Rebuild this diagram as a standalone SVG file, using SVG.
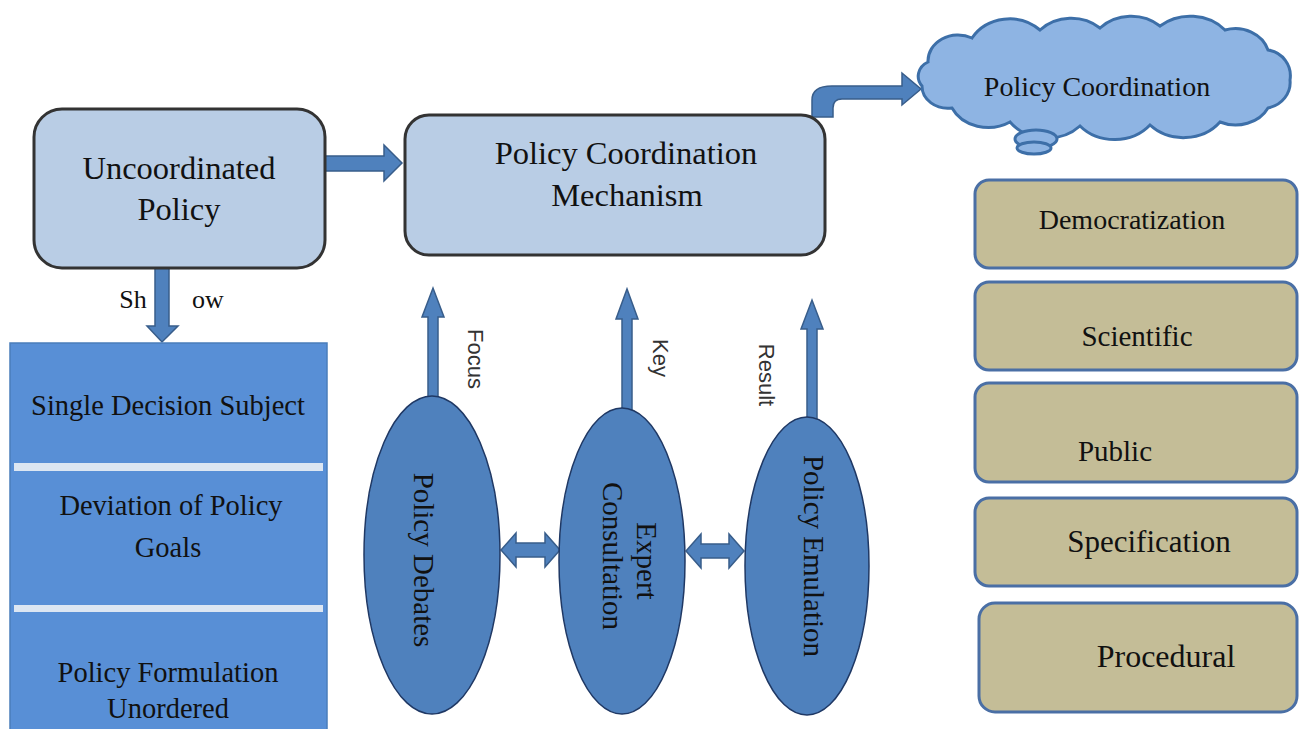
<svg xmlns="http://www.w3.org/2000/svg" width="1299" height="729" viewBox="0 0 1299 729">
<style>
.serif{font-family:"Liberation Serif","Times New Roman",serif;fill:#111;}
.sans{font-family:"Liberation Sans",Arial,sans-serif;fill:#333;}
.arrow{fill:#4f81bd;stroke:#385d8a;stroke-width:1.5;}
.lbox{fill:#b9cde5;stroke:#333;stroke-width:3;}
.tbox{fill:#c4bd97;stroke:#4a6fa5;stroke-width:3;}
.ell{fill:#4f81bd;stroke:#1f3864;stroke-width:1.5;}
</style>
<rect width="1299" height="729" fill="#fff"/>
<g id="connectors">
  <path class="arrow" d="M322 156 L384 156 L384 145 L402 163 L384 181 L384 171 L322 171 Z"/>
  <path class="arrow" d="M155 268 L155 326 L147 326 L162 342 L178 326 L169 326 L169 268 Z"/>
  <path class="arrow" d="M812 117 L812 100 Q812 86 832 86 L902 86 L902 73 L921 89 L902 105 L902 99 L842 99 Q833 99 833 108 L833 117 Z"/>
  <path class="arrow" d="M428 400 L428 317 L422 317 L433 288 L444 317 L438 317 L438 400 Z"/>
  <path class="arrow" d="M622 412 L622 319 L616 319 L627 289 L638 319 L632 319 L632 412 Z"/>
  <path class="arrow" d="M807 422 L807 329 L801 329 L812 300 L823 329 L817 329 L817 422 Z"/>
  <path class="arrow" d="M501 550 L516 533 L516 543 L545 543 L545 533 L560 550 L545 567 L545 557 L516 557 L516 567 Z"/>
  <path class="arrow" d="M686 551 L701 534 L701 544 L729 544 L729 534 L744 551 L729 568 L729 558 L701 558 L701 568 Z"/>
  <text class="serif" x="133" y="308" font-size="26" text-anchor="middle">Sh</text>
  <text class="serif" x="208" y="308" font-size="26" text-anchor="middle">ow</text>
  <text class="sans" font-size="22" text-anchor="middle" transform="translate(468 359) rotate(90)">Focus</text>
  <text class="sans" font-size="22" text-anchor="middle" transform="translate(653 358) rotate(90)">Key</text>
  <text class="sans" font-size="22" text-anchor="middle" transform="translate(759 375) rotate(90)">Result</text>
</g>
<g id="uncoordinated">
  <rect class="lbox" x="34" y="109" width="291" height="159" rx="28"/>
  <text class="serif" x="179" y="179" font-size="32.5" text-anchor="middle">Uncoordinated</text>
  <text class="serif" x="179" y="220" font-size="32.5" text-anchor="middle">Policy</text>
</g>
<g id="mechanism">
  <rect class="lbox" x="405" y="115" width="420" height="140" rx="24"/>
  <text class="serif" x="626" y="164" font-size="32.5" text-anchor="middle">Policy Coordination</text>
  <text class="serif" x="627" y="206" font-size="32.5" text-anchor="middle">Mechanism</text>
</g>
<g id="cloud">
  <path d="M928 62 A30 26 0 0 1 972 38 A44 40 0 0 1 1040 30 A44 40 0 0 1 1100 28 A44 40 0 0 1 1160 26 A46 40 0 0 1 1225 30 A34 30 0 0 1 1268 50 A26 26 0 0 1 1290 80 A28 26 0 0 1 1268 108 A36 30 0 0 1 1220 122 A46 40 0 0 1 1150 125 A46 40 0 0 1 1080 126 A46 40 0 0 1 1010 122 A40 34 0 0 1 952 108 A26 22 0 0 1 922 86 A18 16 0 0 1 928 62 Z" fill="#8eb4e3" stroke="#3d6fa8" stroke-width="3"/>
  <ellipse cx="1036" cy="139" rx="21" ry="9" fill="#8eb4e3" stroke="#3d6fa8" stroke-width="3"/>
  <ellipse cx="1034" cy="148" rx="17" ry="6" fill="#8eb4e3" stroke="#3d6fa8" stroke-width="3"/>
  <text class="serif" x="1097" y="96" font-size="28" text-anchor="middle">Policy Coordination</text>
</g>
<g id="symptoms">
  <rect x="10" y="343" width="317" height="390" fill="#588fd6" stroke="#4a7ebb" stroke-width="1.5"/>
  <rect x="14" y="463" width="309" height="8" fill="#dce6f2"/>
  <rect x="14" y="605" width="309" height="7" fill="#dce6f2"/>
  <text class="serif" x="168" y="415" font-size="28.5" text-anchor="middle">Single Decision Subject</text>
  <text class="serif" x="171" y="515" font-size="28.5" text-anchor="middle">Deviation of Policy</text>
  <text class="serif" x="168" y="557" font-size="28.5" text-anchor="middle">Goals</text>
  <text class="serif" x="168" y="682" font-size="28.5" text-anchor="middle">Policy Formulation</text>
  <text class="serif" x="168" y="718" font-size="28.5" text-anchor="middle">Unordered</text>
</g>
<g id="debates">
  <ellipse class="ell" cx="432" cy="555" rx="68" ry="159"/>
  <text class="serif" font-size="29" text-anchor="middle" transform="translate(414 560) rotate(90)">Policy Debates</text>
</g>
<g id="expert">
  <ellipse class="ell" cx="622" cy="561" rx="63" ry="153"/>
  <text class="serif" font-size="29" text-anchor="middle" transform="translate(637 561) rotate(90)">Expert</text>
  <text class="serif" font-size="29" text-anchor="middle" transform="translate(603 556) rotate(90)">Consultation</text>
</g>
<g id="emulation">
  <ellipse class="ell" cx="807" cy="566" rx="62" ry="149"/>
  <text class="serif" font-size="29" text-anchor="middle" transform="translate(804 556) rotate(90)">Policy Emulation</text>
</g>
<g id="democratization">
  <rect class="tbox" x="975" y="180" width="322" height="88" rx="14"/>
  <text class="serif" x="1132" y="229" font-size="28" text-anchor="middle">Democratization</text>
</g>
<g id="scientific">
  <rect class="tbox" x="975" y="282" width="322" height="88" rx="14"/>
  <text class="serif" x="1137" y="346" font-size="29" text-anchor="middle">Scientific</text>
</g>
<g id="public">
  <rect class="tbox" x="975" y="383" width="322" height="99" rx="14"/>
  <text class="serif" x="1115" y="461" font-size="29" text-anchor="middle">Public</text>
</g>
<g id="specification">
  <rect class="tbox" x="975" y="498" width="322" height="88" rx="14"/>
  <text class="serif" x="1149" y="552" font-size="31" text-anchor="middle">Specification</text>
</g>
<g id="procedural">
  <rect class="tbox" x="979" y="603" width="318" height="109" rx="16" stroke-width="4"/>
  <text class="serif" x="1166" y="667" font-size="32" text-anchor="middle">Procedural</text>
</g>
</svg>
